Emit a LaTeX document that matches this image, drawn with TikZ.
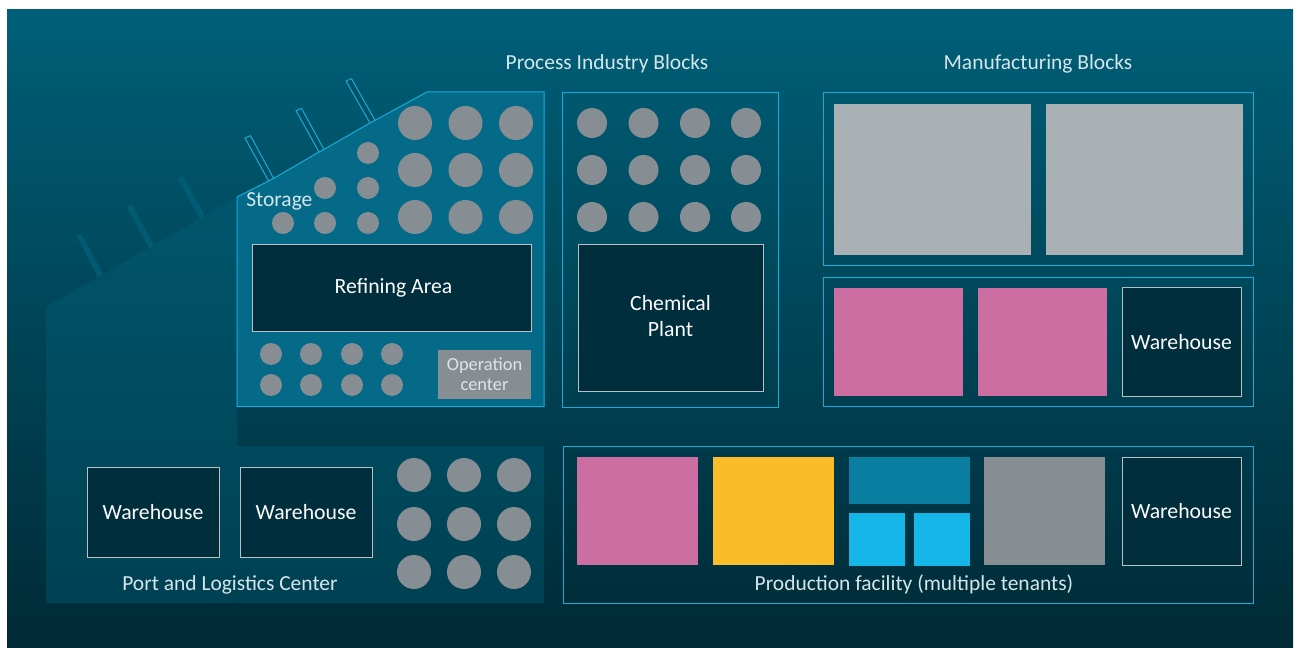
\documentclass[tikz,border=0pt]{standalone}
\usepackage{fontspec}
\setmainfont{Carlito}
\definecolor{bgtop}{HTML}{005F78}
\definecolor{bgbot}{HTML}{002A36}
\definecolor{line}{HTML}{16ACDA}
\definecolor{dark}{HTML}{002E3C}
\definecolor{storefill}{HTML}{056A87}
\definecolor{tank}{HTML}{868E94}
\definecolor{lightgrey}{HTML}{A9B1B4}
\definecolor{pinkb}{HTML}{CC6EA2}
\definecolor{yellowb}{HTML}{FBBC2A}
\definecolor{tealb}{HTML}{0A7EA0}
\definecolor{cyanb}{HTML}{15B6E8}
\definecolor{txt}{HTML}{D5E6EA}
\tikzset{
  x=0.75pt,y=-0.75pt,
  zone/.style={draw=line,line width=.75pt},
  building/.style={draw=lightgrey!80!white,fill=dark,line width=.75pt},
  lab/.style={text=txt,font=\fontsize{16.1}{18}\selectfont,inner sep=0pt},
  oplab/.style={text=white!75!tank,font=\fontsize{13.8}{15}\selectfont,inner sep=0pt,align=center},
  blab/.style={text=white!92!txt,font=\fontsize{16.3}{19.5}\selectfont,inner sep=0pt,align=center},
  pier/.style={draw=line,fill=bgtop!85!black,line width=.75pt,line join=round},
  lot/.style={fill=#1},
}
\newcommand{\blockn}[7]{\path[#6] (#2,#3) rectangle node[blab] (#1) {#7} (#4,#5);}
\begin{document}
\begin{tikzpicture}
\useasboundingbox (0,0) rectangle (1298,648);
\fill[white] (0,0) rectangle (1298,648);
\shade[top color=bgtop,bottom color=bgbot] (7,10) rectangle (1293,648);
% port and logistics zone with its dim piers
\fill[bgtop,fill opacity=.4] (46,307) -- (237,197) -- (237,446) -- (544,446) -- (544,603) -- (46,603) -- cycle;
\foreach \a/\b/\c/\d in {98/277/76.4/236,149/248/127/207,200/219/177.5/178}{
  \fill[bgtop,fill opacity=.8] (\a,\b) -- (\c,\d) -- (\c+5,\d-2) -- (\a+5,\b-3) -- cycle;
}
% storage piers and zone
\foreach \a/\b/\c/\d in {268.6/181/245/138,319/152/296/110.7,370/123/346/81}{
  \draw[pier] (\a,\b) -- (\c,\d) -- (\c+5.5,\d-2.3) -- (\a+5,\b-2.6);
}
\path[zone,fill=storefill] (237,197) -- (268.6,181) -- (273.6,178.4) -- (319,152) -- (324,149.4) -- (370,123) -- (375,120.4) -- (427,92) -- (544,92) -- (544,406.5) -- (237,406.5) -- cycle;
% tanks
\foreach \x in {415,465.5,516}\foreach \y in {123,170,217}{\fill[tank] (\x,\y) circle (17);}
\foreach \x/\y in {368/153,368/188,368/223,325/188,325/223,283/223}{\fill[tank] (\x,\y) circle (11);}
\foreach \x in {271,311,352,392}\foreach \y in {354,385}{\fill[tank] (\x,\y) circle (11);}
\foreach \x in {592,643.5,695,746}\foreach \y in {123,170,217}{\fill[tank] (\x,\y) circle (15);}
\foreach \x in {414,464,514}\foreach \y in {475,524,572}{\fill[tank] (\x,\y) circle (17);}
% zone outlines
\draw[zone] (562,93) rectangle (778,407);
\draw[zone] (823,93) rectangle (1253,266);
\draw[zone] (823,278) rectangle (1253,406);
\draw[zone] (563,446) rectangle (1253,603);
% buildings
\blockn{refining}{252}{244.5}{531}{332}{building}{\hspace{3pt}Refining Area}
\blockn{chem}{578}{245}{763}{391}{building}{Chemical\\Plant\vspace{3pt}}
\blockn{wh1}{87}{467.5}{219}{557}{building}{Warehouse}
\blockn{wh2}{240}{467.5}{372}{557}{building}{Warehouse}
\blockn{wh3}{1122}{288}{1241}{396}{building}{Warehouse}
\blockn{wh4}{1122}{457}{1241}{565}{building}{Warehouse}
\path[lot=tank] (438,350) rectangle node[oplab] (opc) {Operation\\center} (531,399);
% lots
\fill[lightgrey] (834,104) rectangle (1031,255);
\fill[lightgrey] (1046,104) rectangle (1243,255);
\fill[pinkb] (834,288) rectangle (963,396);
\fill[pinkb] (978,288) rectangle (1107,396);
\fill[pinkb] (577,457) rectangle (698,565);
\fill[yellowb] (713,457) rectangle (834,565);
\fill[tealb] (849,457) rectangle (970,504);
\fill[cyanb] (849,513) rectangle (905,566);
\fill[cyanb] (914,513) rectangle (970,566);
\fill[tank] (984,457) rectangle (1105,565);
% labels
\node[lab] (process) at (607,63.5) {Process Industry Blocks};
\node[lab] (manuf) at (1038,63.5) {Manufacturing Blocks};
\node[lab,anchor=west] (storage) at (246,201) {Storage};
\node[lab] (port) at (230,584.5) {Port and Logistics Center};
\node[lab] (prod) at (914,584.5) {Production facility (multiple tenants)};
\end{tikzpicture}
\end{document}
